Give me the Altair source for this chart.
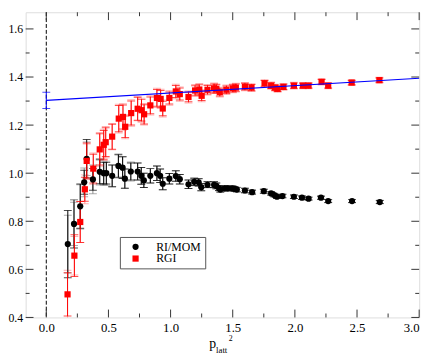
import altair as alt
import pandas as pd

# ---------------- data ----------------
ri_x = [0.173, 0.223, 0.273, 0.305, 0.325, 0.375, 0.43, 0.462, 0.483, 0.53,
        0.58, 0.614, 0.632, 0.68, 0.735, 0.764, 0.785, 0.837, 0.89, 0.916,
        0.937, 0.99, 1.042, 1.074, 1.144, 1.19, 1.226, 1.247, 1.297, 1.35,
        1.368, 1.389, 1.40, 1.435, 1.459, 1.498, 1.514, 1.533, 1.598, 1.656,
        1.75, 1.809, 1.835, 1.856, 1.90, 1.992, 2.057, 2.11, 2.21, 2.268,
        2.46, 2.683]
ri_y = [0.705, 0.789, 0.862, 0.962, 1.06, 0.974, 1.006, 1.0, 1.0, 0.989,
        1.03, 1.023, 0.977, 1.007, 1.007, 0.989, 0.97, 0.989, 1.0, 0.989,
        0.956, 0.977, 0.988, 0.975, 0.954, 0.964, 0.962, 0.942, 0.952, 0.952,
        0.947, 0.938, 0.932, 0.937, 0.937, 0.937, 0.935, 0.932, 0.928, 0.921,
        0.925, 0.916, 0.909, 0.902, 0.905, 0.902, 0.898, 0.894, 0.898, 0.884,
        0.884, 0.88]
ri_err = [0.14, 0.10, 0.093, 0.05, 0.08, 0.045, 0.05, 0.045, 0.045, 0.045,
          0.047, 0.045, 0.04, 0.035, 0.035, 0.035, 0.03, 0.03, 0.03, 0.028,
          0.025, 0.022, 0.022, 0.02, 0.018, 0.015, 0.015, 0.015, 0.012, 0.012,
          0.012, 0.01, 0.01, 0.01, 0.01, 0.01, 0.009, 0.009, 0.009, 0.008,
          0.008, 0.007, 0.007, 0.007, 0.007, 0.007, 0.007, 0.006, 0.006, 0.006,
          0.006, 0.006]
ri_err2 = [0.12, 0.09, 0.09, 0.06, 0.07, 0.06, 0.055, 0.05, 0.05, 0.045,
           0.05, 0.045, 0.04, 0.04, 0.035, 0.035, 0.03, 0.03, 0.03, 0.028,
           0.025, 0.022, 0.022, 0.02, 0.018, 0.016, 0.016, 0.015, 0.013, 0.013,
           0.012, 0.011, 0.011, 0.011, 0.01, 0.01, 0.01, 0.01, 0.009, 0.009,
           0.008, 0.008, 0.008, 0.007, 0.007, 0.007, 0.007, 0.007, 0.007, 0.007,
           0.007, 0.007]

rgi_x = [0.171, 0.226, 0.273, 0.31, 0.325, 0.378, 0.43, 0.462, 0.478, 0.53,
         0.583, 0.617, 0.635, 0.683, 0.735, 0.766, 0.787, 0.837, 0.89, 0.92,
         0.937, 0.99, 1.042, 1.074, 1.144, 1.197, 1.231, 1.25, 1.297, 1.35,
         1.368, 1.396, 1.449, 1.501, 1.525, 1.598, 1.651, 1.756, 1.809, 1.84,
         1.861, 1.908, 1.992, 2.065, 2.11, 2.215, 2.268, 2.457, 2.68]
rgi_y = [0.496, 0.657, 0.797, 0.933, 1.051, 1.019, 1.099, 1.118, 1.129, 1.152,
         1.227, 1.234, 1.193, 1.25, 1.268, 1.262, 1.245, 1.282, 1.313, 1.309,
         1.269, 1.313, 1.34, 1.329, 1.317, 1.344, 1.348, 1.322, 1.347, 1.353,
         1.351, 1.337, 1.347, 1.353, 1.356, 1.36, 1.356, 1.374, 1.364, 1.356,
         1.351, 1.359, 1.364, 1.364, 1.364, 1.38, 1.364, 1.377, 1.387]
rgi_err = [0.09, 0.087, 0.085, 0.05, 0.075, 0.06, 0.065, 0.06, 0.06, 0.052,
           0.055, 0.05, 0.045, 0.05, 0.048, 0.045, 0.04, 0.035, 0.035, 0.035,
           0.03, 0.025, 0.025, 0.025, 0.02, 0.02, 0.02, 0.02, 0.018, 0.018,
           0.017, 0.016, 0.016, 0.015, 0.015, 0.014, 0.013, 0.012, 0.012, 0.011,
           0.011, 0.011, 0.011, 0.01, 0.01, 0.01, 0.01, 0.009, 0.009]
rgi_err2 = [0.1, 0.08, 0.085, 0.06, 0.07, 0.065, 0.07, 0.065, 0.065, 0.055,
            0.06, 0.055, 0.05, 0.055, 0.05, 0.05, 0.045, 0.04, 0.04, 0.04,
            0.035, 0.03, 0.03, 0.03, 0.025, 0.025, 0.025, 0.025, 0.022, 0.022,
            0.02, 0.02, 0.02, 0.018, 0.018, 0.017, 0.016, 0.015, 0.015, 0.014,
            0.014, 0.014, 0.014, 0.013, 0.013, 0.013, 0.013, 0.012, 0.012]

fit_x = [0.0, 3.0]
fit_y = [1.303, 1.395]
fit0_x = [0.0]
fit0_lo = [1.269]
fit0_hi = [1.337]

series_names = ["RI/MOM", "RGI"]
x_ticks = [0.0, 0.5, 1.0, 1.5, 2.0, 2.5, 3.0]
x_minor = [0.25, 0.75, 1.25, 1.75, 2.25, 2.75]
y_ticks = [0.4, 0.6, 0.8, 1.0, 1.2, 1.4, 1.6]
y_minor = [0.5, 0.7, 0.9, 1.1, 1.3, 1.5]

# ---------------- layout ----------------
W, H = 401, 311
FONT = "'Liberation Serif', 'Times New Roman', serif"

xscale = alt.Scale(domain=[-0.166, 3.0], nice=False, zero=False)
yscale = alt.Scale(domain=[0.4, 1.6694], nice=False, zero=False)
xaxis = alt.Axis(values=x_ticks, format=".1f", title=None, ticks=False, domain=False,
                 grid=False, labelFont=FONT, labelFontSize=13, labelColor="black",
                 labelPadding=4)
yaxis = alt.Axis(values=y_ticks, format=".1f", title=None, ticks=False, domain=False,
                 grid=False, labelFont=FONT, labelFontSize=12, labelColor="black",
                 labelPadding=3)


def X(f="x"):
    return alt.X(f"{f}:Q", scale=xscale, axis=xaxis)


def Y(f="y"):
    return alt.Y(f"{f}:Q", scale=yscale, axis=yaxis)


ri = pd.DataFrame({"x": ri_x, "y": ri_y, "e": ri_err, "e2": ri_err2})
ri["series"] = series_names[0]
rg = pd.DataFrame({"x": rgi_x, "y": rgi_y, "e": rgi_err, "e2": rgi_err2})
rg["series"] = series_names[1]
for d in (ri, rg):
    d["lo"] = d["y"] - d["e"]
    d["hi"] = d["y"] + d["e"]
    d["lo2"] = d["y"] - d["e2"]
    d["hi2"] = d["y"] + d["e2"]
pts = pd.concat([ri, rg], ignore_index=True)


def errbars(df, lo, hi, color, width=1.0):
    base = alt.Chart(df)
    r = base.mark_rule(color=color, strokeWidth=width, clip=True).encode(
        x=X(), y=Y(lo), y2=f"{hi}:Q")
    t1 = base.mark_tick(color=color, orient="horizontal", size=8, thickness=1, clip=True).encode(
        x=X(), y=Y(lo))
    t2 = base.mark_tick(color=color, orient="horizontal", size=8, thickness=1, clip=True).encode(
        x=X(), y=Y(hi))
    return [r, t1, t2]


dashed = alt.Chart(pd.DataFrame({"x": fit0_x})).mark_rule(
    color="black", strokeDash=[4, 2], strokeWidth=1).encode(x=X())

fit = alt.Chart(pd.DataFrame({"x": fit_x, "y": fit_y})).mark_line(
    color="#0000ff", strokeWidth=1.2).encode(x=X(), y=Y())

fit0 = pd.DataFrame({"x": fit0_x, "lo": fit0_lo, "hi": fit0_hi})

legend = alt.Legend(title=None, orient="none", legendX=96, legendY=229, padding=4,
                    symbolOffset=6, labelOffset=15, labelFont=FONT, labelFontSize=12,
                    labelColor="black", rowPadding=0, strokeColor="#555555",
                    fillColor="white", symbolSize=40, symbolStrokeWidth=0)

points = alt.Chart(pts).mark_point(filled=True, opacity=1, size=40).encode(
    x=X(), y=Y(),
    color=alt.Color("series:N", scale=alt.Scale(domain=series_names, range=["black", "red"]),
                    legend=legend),
    shape=alt.Shape("series:N", scale=alt.Scale(domain=series_names, range=["circle", "square"]),
                    legend=legend),
)


# inward ticks on all four sides
def tick_layers():
    out = []
    for vals, ln in ((x_ticks, 8), (x_minor, 4)):
        df = pd.DataFrame({"x": vals})
        out.append(alt.Chart(df).mark_rule(color="#333333").encode(
            x=X(), y=alt.value(H), y2=alt.value(H - ln)))
        out.append(alt.Chart(df).mark_rule(color="#333333").encode(
            x=X(), y=alt.value(0), y2=alt.value(ln)))
    for vals, ln in ((y_ticks, 8), (y_minor, 4)):
        df = pd.DataFrame({"y": vals})
        out.append(alt.Chart(df).mark_rule(color="#333333").encode(
            y=Y(), x=alt.value(0), x2=alt.value(ln)))
        out.append(alt.Chart(df).mark_rule(color="#333333").encode(
            y=Y(), x=alt.value(W), x2=alt.value(W - ln)))
    return out


t_p = alt.Chart(pd.DataFrame({"t": ["p"]})).mark_text(
    font=FONT, fontSize=14, align="left", baseline="alphabetic", color="black").encode(
    text="t:N", x=alt.value(187), y=alt.value(342))
t_sub = alt.Chart(pd.DataFrame({"t": ["latt"]})).mark_text(
    font=FONT, fontSize=9, align="left", baseline="alphabetic", color="black").encode(
    text="t:N", x=alt.value(194), y=alt.value(347))
t_sup = alt.Chart(pd.DataFrame({"t": ["2"]})).mark_text(
    font=FONT, fontSize=8, align="left", baseline="alphabetic", color="black").encode(
    text="t:N", x=alt.value(207), y=alt.value(335))

layers = [dashed]
layers += errbars(ri, "lo2", "hi2", "#8c8c8c")
layers += errbars(rg, "lo2", "hi2", "#ff8f8f")
layers += errbars(ri, "lo", "hi", "black")
layers += errbars(rg, "lo", "hi", "red")
layers += errbars(fit0, "lo", "hi", "#0000ff")
layers += [points, fit]
layers += tick_layers()
layers += [t_p, t_sub, t_sup]

chart = alt.layer(*layers).properties(
    width=W, height=H,
    padding={"left": 18, "top": 1, "right": 9, "bottom": 38},
    autosize=alt.AutoSizeParams(type="none"),
).configure_view(stroke="black", strokeWidth=1).configure(background="white")

chart.save("out.html", embed_options={"renderer": "svg", "actions": False})
